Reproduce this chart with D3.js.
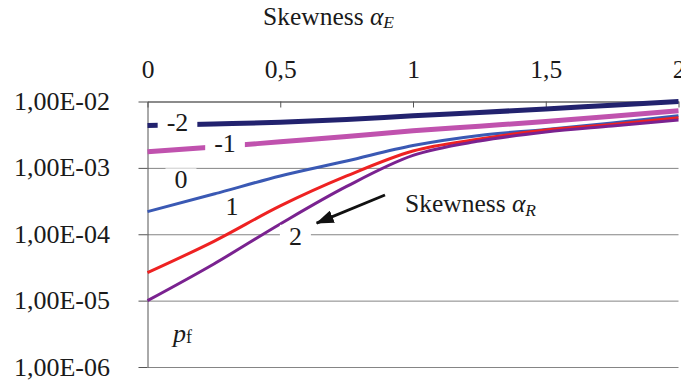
<!DOCTYPE html>
<html>
<head>
<meta charset="utf-8">
<script src="https://cdn.jsdelivr.net/npm/d3@7"></script>
<style>
  html, body { margin: 0; padding: 0; background: #fff; }
  svg { display: block; }
</style>
</head>
<body>
<svg id="chart" width="681" height="381" font-family="Liberation Serif"></svg>
<script>
// Failure probability p_f against skewness alpha_E, one curve per skewness alpha_R
const alphaE = [0, 0.25, 0.5, 0.75, 1, 1.25, 1.5, 1.75, 2];
const alphaR = [-2, -1, 0, 1, 2];
const pfAlphaRm2 = [4.34e-3, 4.58e-3, 4.86e-3, 5.36e-3, 6.09e-3, 6.83e-3, 7.71e-3, 8.80e-3, 1.0e-2];
const pfAlphaRm1 = [1.75e-3, 2.06e-3, 2.47e-3, 2.96e-3, 3.62e-3, 4.25e-3, 5.0e-3, 6.01e-3, 7.27e-3];
const pfAlphaR0  = [2.19e-4, 4.03e-4, 7.55e-4, 1.27e-3, 2.17e-3, 3.08e-3, 3.79e-3, 4.75e-3, 6.11e-3];
const pfAlphaR1  = [2.64e-5, 7.82e-5, 2.67e-4, 7.55e-4, 1.80e-3, 2.72e-3, 3.72e-3, 4.51e-3, 5.70e-3];
const pfAlphaR2  = [1.0e-5, 3.57e-5, 1.43e-4, 5.25e-4, 1.54e-3, 2.54e-3, 3.47e-3, 4.28e-3, 5.26e-3];
const xTicks = [0, 0.5, 1, 1.5, 2];
const yTicks = [1e-2, 1e-3, 1e-4, 1e-5, 1e-6];

const seriesValues = [pfAlphaRm2, pfAlphaRm1, pfAlphaR0, pfAlphaR1, pfAlphaR2];
const seriesColors = ["#22226e", "#c052ae", "#3a59b4", "#ee2222", "#7a2290"];
const seriesWidths = [5, 5, 3, 3, 3];

const FONT = "Liberation Serif";
const svg = d3.select("#chart");
const plotLeft = 147.5, plotRight = 678.5, plotTop = 101.5, plotBottom = 367;

const x = d3.scaleLinear().domain([0, 2]).range([plotLeft, plotRight]);
const y = d3.scaleLog().domain([1e-6, 1e-2]).range([plotBottom, plotTop]);

const fmtX = d => String(d).replace(".", ",");
const fmtY = d => {
  const e = Math.round(Math.log10(d));
  const m = d / Math.pow(10, e);
  const sign = e < 0 ? "-" : "+";
  return m.toFixed(2).replace(".", ",") + "E" + sign + String(Math.abs(e)).padStart(2, "0");
};

// horizontal gridlines
const grid = svg.append("g")
  .attr("transform", `translate(${plotLeft},0)`)
  .call(d3.axisLeft(y).tickValues(yTicks).tickSize(-(plotRight - plotLeft)).tickFormat(""));
grid.select(".domain").remove();
grid.selectAll(".tick line").attr("stroke", "#858585").attr("stroke-width", 1);

// left axis with labels
const yAxis = svg.append("g")
  .attr("transform", `translate(${plotLeft},0)`)
  .call(d3.axisLeft(y).tickValues(yTicks).tickSize(9).tickSizeOuter(0).tickPadding(28.5).tickFormat(fmtY));
yAxis.attr("font-family", FONT).attr("font-size", 26);
yAxis.select(".domain").attr("stroke", "#555");
yAxis.selectAll(".tick line").attr("stroke", "#555");
yAxis.selectAll(".tick text")
  .attr("fill", "#1a1a1a")
  .attr("dy", "0.31em");

// top axis, ticks pointing into the plot
const xAxis = svg.append("g")
  .attr("transform", `translate(0,${plotTop})`)
  .call(d3.axisTop(x).tickValues(xTicks).tickSize(-6).tickSizeOuter(0).tickPadding(23.5).tickFormat(fmtX));
xAxis.attr("font-family", FONT).attr("font-size", 25.5);
xAxis.select(".domain").attr("stroke", "#555");
xAxis.selectAll(".tick line").attr("stroke", "#555");
xAxis.selectAll(".tick text").attr("fill", "#1a1a1a");

// curves
const line = d3.line()
  .x((d, i) => x(alphaE[i]))
  .y(d => y(d))
  .curve(d3.curveMonotoneX);

svg.append("g").selectAll("path")
  .data(seriesValues)
  .join("path")
  .attr("d", d => line(d))
  .attr("fill", "none")
  .attr("stroke", (d, i) => seriesColors[i])
  .attr("stroke-width", (d, i) => seriesWidths[i])
  .attr("stroke-linejoin", "round");

// curve labels (alpha_R values) on white boxes, positioned in data space
const labelAlphaE = [0.113, 0.292, 0.126, 0.318, 0.557];
const labelPf = [4.91e-3, 2.33e-3, 6.68e-4, 2.67e-4, 9.42e-5];
const labels = svg.append("g").attr("font-family", FONT);
alphaR.forEach((r, i) => {
  const g = labels.append("g");
  const t = g.append("text")
    .attr("x", x(labelAlphaE[i]))
    .attr("y", y(labelPf[i]))
    .attr("text-anchor", "middle")
    .attr("dy", "0.34em")
    .attr("font-size", 26)
    .attr("fill", "#1a1a1a")
    .text(r);
  const b = t.node().getBBox();
  g.insert("rect", "text")
    .attr("x", b.x - 9).attr("y", b.y + 3)
    .attr("width", b.width + 18).attr("height", b.height - 6)
    .attr("fill", "#fff");
});

// arrow pointing toward increasing alpha_R
svg.append("defs").append("marker")
  .attr("id", "head")
  .attr("viewBox", "0 0 18 13")
  .attr("refX", 17).attr("refY", 6.5)
  .attr("markerWidth", 18).attr("markerHeight", 13)
  .attr("markerUnits", "userSpaceOnUse")
  .attr("orient", "auto")
  .append("path").attr("d", "M0,0 L18,6.5 L0,13 Z").attr("fill", "#111");

svg.append("line")
  .attr("x1", x(0.8945)).attr("y1", y(3.91e-4))
  .attr("x2", x(0.637)).attr("y2", y(1.47e-4))
  .attr("stroke", "#111").attr("stroke-width", 2.8)
  .attr("marker-end", "url(#head)");

// annotation: Skewness alpha_R
const aR = svg.append("text")
  .attr("x", 405).attr("y", 212.3)
  .attr("font-family", FONT).attr("font-size", 25.5).attr("fill", "#1a1a1a");
aR.append("tspan").text("Skewness ");
aR.append("tspan").attr("font-style", "italic").text("α");
aR.append("tspan").attr("font-style", "italic").attr("font-size", 17.5).attr("dy", 3.3).text("R");

// x axis title: Skewness alpha_E
const aE = svg.append("text")
  .attr("x", 263).attr("y", 25)
  .attr("font-family", FONT).attr("font-size", 25.5).attr("fill", "#1a1a1a");
aE.append("tspan").text("Skewness ");
aE.append("tspan").attr("font-style", "italic").text("α");
aE.append("tspan").attr("font-style", "italic").attr("font-size", 17.5).attr("dy", 3.3).text("E");

// y axis title: p_f
const pf = svg.append("text")
  .attr("x", 173).attr("y", 341.7)
  .attr("font-family", FONT).attr("font-size", 26).attr("fill", "#1a1a1a");
pf.append("tspan").attr("font-style", "italic").text("p");
pf.append("tspan").attr("font-size", 18).attr("dy", 1.5).text("f");
</script>
</body>
</html>
